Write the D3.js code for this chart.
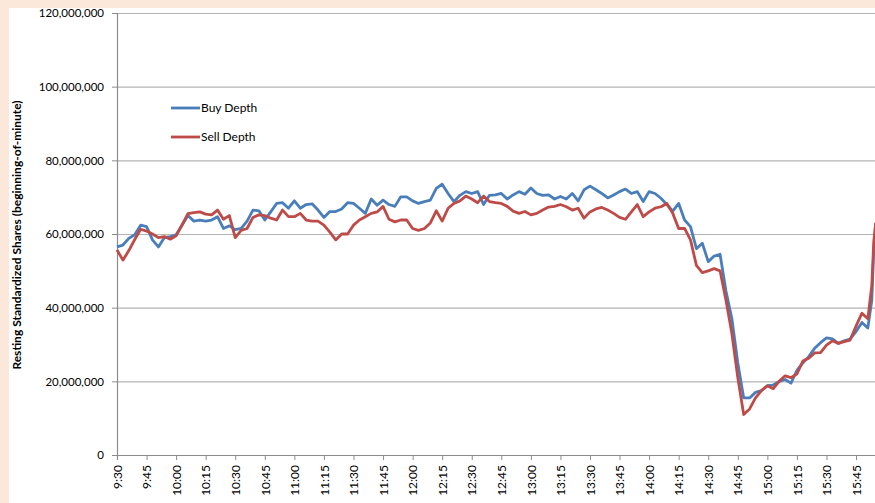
<!DOCTYPE html>
<html>
<head>
<meta charset="utf-8">
<script src="https://cdn.jsdelivr.net/npm/d3@7"></script>
<style>
  html, body { margin: 0; padding: 0; background: #fce8da; }
  svg { display: block; }
  .tick text { font-family: Lato, "Open Sans", sans-serif; font-size: 11.5px; fill: #000; }
  .x-axis .tick text { font-size: 12px; }
  .y-title { font-family: Lato, "Open Sans", sans-serif; font-size: 12px; font-weight: bold; }
  .legend-text { font-family: Lato, "Open Sans", sans-serif; font-size: 12px; }
</style>
</head>
<body>
<div id="main"></div>
<script>
// Layout parameters
var svgWidth = 875;
var svgHeight = 503;

var plot = { l: 117, t: 13, b: 455, r: 885.6 };

// minutes after 9:30
var minutes = [0, 3, 6, 9, 12, 15, 18, 21, 24, 27, 30, 33, 36, 39, 42, 45, 48, 51, 54, 57,
  60, 63, 66, 69, 72, 75, 78, 81, 84, 87, 90, 93, 96, 99, 102, 105, 108, 111, 114, 117,
  120, 123, 126, 129, 132, 135, 138, 141, 144, 147, 150, 153, 156, 159, 162, 165, 168, 171, 174, 177,
  180, 183, 186, 189, 192, 195, 198, 201, 204, 207, 210, 213, 216, 219, 222, 225, 228, 231, 234, 237,
  240, 243, 246, 249, 252, 255, 258, 261, 264, 267, 270, 273, 276, 279, 282, 285, 288, 291, 294, 297,
  300, 303, 306, 309, 312, 315, 318, 321, 324, 327, 330, 333, 336, 339, 342, 345, 348, 351, 354, 357,
  360, 363, 366, 369, 372, 375, 378, 381, 383, 384, 385];

// resting shares, millions
var buyDepth = [56.5, 57.0, 58.8, 59.8, 62.4, 62.0, 58.4, 56.5, 59.0, 59.3, 59.8, 62.4, 65.0, 63.5, 63.8, 63.5, 63.8, 64.7, 61.5, 62.2,
  61.2, 61.5, 63.5, 66.5, 66.3, 63.8, 66.0, 68.3, 68.5, 67.0, 69.0, 67.0, 68.0, 68.2, 66.5, 64.5, 66.1, 66.1, 66.8, 68.5,
  68.3, 67.0, 65.6, 69.5, 67.8, 69.2, 68.0, 67.5, 70.1, 70.1, 69.0, 68.3, 68.8, 69.2, 72.4, 73.5, 71.0, 68.8, 70.5, 71.5,
  71.0, 71.5, 68.0, 70.5, 70.6, 71.0, 69.5, 70.6, 71.5, 70.8, 72.5, 71.0, 70.5, 70.6, 69.5, 70.2, 69.5, 71.0, 69.0, 72.0,
  73.0, 72.0, 71.0, 69.8, 70.6, 71.5, 72.2, 71.0, 71.5, 68.8, 71.5, 71.0, 69.7, 68.0, 66.2, 68.3, 63.8, 62.0, 56.0, 57.5,
  52.5, 54.0, 54.5, 44.5, 37.0, 25.0, 15.5, 15.5, 17.0, 17.5, 18.8, 19.0, 20.0, 20.5, 19.5, 23.0, 25.0, 26.7, 29.0, 30.5,
  31.8, 31.5, 30.3, 31.0, 31.5, 33.5, 36.0, 34.5, 42.0, 55.7, 63.0];

var sellDepth = [55.7, 52.9, 55.5, 58.5, 61.3, 60.8, 60.0, 59.0, 59.3, 58.6, 59.5, 62.5, 65.5, 65.8, 66.0, 65.4, 65.2, 66.5, 64.0, 65.0,
  59.0, 61.0, 61.5, 64.5, 65.2, 65.0, 64.3, 63.8, 66.5, 64.7, 64.7, 65.6, 63.8, 63.5, 63.5, 62.4, 60.5, 58.4, 60.0, 60.0,
  62.4, 63.8, 64.7, 65.6, 66.0, 67.5, 64.0, 63.3, 63.8, 63.8, 61.5, 61.0, 61.5, 63.0, 66.3, 63.5, 67.0, 68.3, 69.0, 70.3,
  69.5, 68.5, 70.3, 68.8, 68.5, 68.3, 67.5, 66.2, 65.6, 66.1, 65.2, 65.6, 66.5, 67.3, 67.5, 68.0, 67.4, 66.5, 67.0, 64.3,
  66.0, 66.8, 67.2, 66.5, 65.6, 64.5, 64.0, 66.0, 68.0, 64.7, 66.0, 67.0, 67.4, 68.3, 65.6, 61.5, 61.5, 58.4, 51.5, 49.5,
  50.0, 50.6, 50.0, 42.0, 33.0, 21.0, 11.0, 12.5, 15.5, 17.5, 18.8, 18.0, 20.0, 21.5, 21.0, 22.0, 25.5, 26.3, 27.7, 27.8,
  29.8, 31.0, 30.3, 30.8, 31.2, 35.0, 38.5, 37.0, 46.0, 58.0, 63.0];

var tickLabels = ['9:30', '9:45', '10:00', '10:15', '10:30', '10:45', '11:00', '11:15', '11:30', '11:45',
  '12:00', '12:15', '12:30', '12:45', '13:00', '13:15', '13:30', '13:45', '14:00', '14:15',
  '14:30', '14:45', '15:00', '15:15', '15:30', '15:45'];
var tickMinutes = [0, 15, 30, 45, 60, 75, 90, 105, 120, 135, 150, 165, 180, 195, 210, 225, 240, 255, 270, 285,
  300, 315, 330, 345, 360, 375];

var yTicks = [0, 20, 40, 60, 80, 100, 120];

var seriesNames = ['Buy Depth', 'Sell Depth'];
var seriesColors = ['#4a7ebb', '#be4b48'];

var svg = d3.select('#main')
  .append('svg')
  .attr('width', svgWidth)
  .attr('height', svgHeight);

// white chart area inside the peach page
svg.append('rect')
  .attr('x', 9).attr('y', 8)
  .attr('width', svgWidth - 9).attr('height', svgHeight - 8)
  .attr('fill', '#ffffff');

var xScale = d3.scaleLinear().domain([0, 390]).range([plot.l, plot.r]);
var yScale = d3.scaleLinear().domain([0, 120]).range([plot.b, plot.t]);

// gridlines
svg.append('g')
  .attr('transform', 'translate(' + [plot.l, 0] + ')')
  .call(d3.axisLeft(yScale).tickValues(yTicks.slice(1)).tickSize(-(plot.r - plot.l)).tickFormat(''))
  .call(g => g.select('.domain').remove())
  .call(g => g.selectAll('line').attr('stroke', '#b3b3b3').attr('stroke-width', 1.2));

// y axis
var yAxisG = svg.append('g')
  .attr('transform', 'translate(' + [plot.l, 0] + ')')
  .call(d3.axisLeft(yScale).tickValues(yTicks).tickSize(5).tickPadding(8)
    .tickFormat(d => d3.format(',')(d * 1e6)));
yAxisG.select('.domain').attr('stroke', '#8c8c8c').attr('stroke-width', 1.2);
yAxisG.selectAll('line').attr('stroke', '#8c8c8c');

// x axis
var xAxisG = svg.append('g')
  .attr('class', 'x-axis')
  .attr('transform', 'translate(' + [0, plot.b] + ')')
  .call(d3.axisBottom(xScale).tickValues(tickMinutes).tickSize(5)
    .tickFormat((d, i) => tickLabels[i]));
xAxisG.select('.domain').attr('stroke', '#8c8c8c').attr('stroke-width', 1.2);
xAxisG.selectAll('line').attr('stroke', '#8c8c8c');
xAxisG.selectAll('text')
  .attr('transform', 'rotate(-90)')
  .attr('text-anchor', 'end')
  .attr('x', -10)
  .attr('y', 0)
  .attr('dy', '0.35em');

// y axis title
svg.append('text')
  .attr('class', 'y-title')
  .attr('transform', 'translate(' + [21, 235] + ') rotate(-90)')
  .attr('text-anchor', 'middle')
  .text('Resting Standardized Shares (beginning-of-minute)');

// lines
var line = d3.line()
  .x((d, i) => xScale(minutes[i]))
  .y(d => yScale(d));

[buyDepth, sellDepth].forEach(function (values, k) {
  svg.append('path')
    .datum(values)
    .attr('fill', 'none')
    .attr('stroke', seriesColors[k])
    .attr('stroke-width', 2.8)
    .attr('stroke-linejoin', 'round')
    .attr('d', line);
});

// legend
var legendG = svg.append('g').attr('transform', 'translate(171, 108)');
seriesNames.forEach(function (name, k) {
  legendG.append('line')
    .attr('x1', 0).attr('x2', 29)
    .attr('y1', k * 29).attr('y2', k * 29)
    .attr('stroke', seriesColors[k])
    .attr('stroke-width', 2.8);
  legendG.append('text')
    .attr('class', 'legend-text')
    .attr('x', 30).attr('y', k * 29 + 4)
    .text(name);
});
</script>
</body>
</html>
